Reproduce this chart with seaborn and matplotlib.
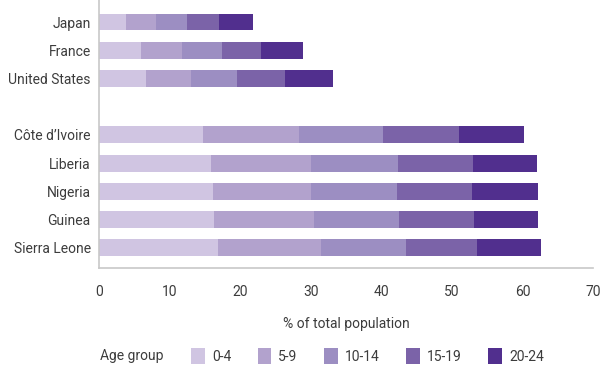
import pandas as pd
import numpy as np
import matplotlib
matplotlib.use("Agg")
import matplotlib.pyplot as plt
import matplotlib.patches as mpatches
import seaborn as sns

# share of total population by age group
countries = ["Japan", "France", "United States", "",
             "Côte d’Ivoire", "Liberia", "Nigeria", "Guinea", "Sierra Leone"]
age_groups = ["0-4", "5-9", "10-14", "15-19", "20-24"]
colors = ["#d0c5e2", "#b2a2cd", "#9c8ec2", "#7b63a8", "#512f8e"]

japan = [3.8, 4.3, 4.3, 4.6, 4.8]
france = [5.9, 5.8, 5.7, 5.6, 5.9]
united_states = [6.7, 6.4, 6.4, 6.8, 6.8]
cote_divoire = [14.8, 13.5, 12.0, 10.7, 9.2]
liberia = [15.9, 14.1, 12.3, 10.7, 9.1]
nigeria = [16.2, 13.9, 12.1, 10.6, 9.4]
guinea = [16.3, 14.1, 12.1, 10.6, 9.1]
sierra_leone = [16.8, 14.6, 12.1, 10.1, 9.0]

data = {
    "Japan": japan,
    "France": france,
    "United States": united_states,
    "Côte d’Ivoire": cote_divoire,
    "Liberia": liberia,
    "Nigeria": nigeria,
    "Guinea": guinea,
    "Sierra Leone": sierra_leone,
}

rows = []
for country, vals in data.items():
    cum = np.cumsum(vals)
    for grp, v in zip(age_groups, cum):
        rows.append({"country": country, "group": grp, "cum": v})
df = pd.DataFrame(rows)

sns.set_style("white")
plt.rcParams["font.family"] = ["Roboto", "DejaVu Sans"]
text_color = "#3c3c3c"
axis_color = "#c8c8c8"
fs = 10

fig = plt.figure(figsize=(6.01, 3.69), dpi=100)
ax = fig.add_axes([99 / 601, 1 - 268 / 369, (593 - 99) / 601, 268 / 369])

# stacked bars: draw cumulative totals from widest to narrowest
for grp, col in reversed(list(zip(age_groups, colors))):
    sub = df[df["group"] == grp]
    sns.barplot(data=sub, x="cum", y="country", order=countries, color=col,
                width=0.6, orient="h", ax=ax, saturation=1, edgecolor="none")

ax.set_xlim(0, 70)
ax.set_ylim(8.72, -0.78)
ax.set_xticks(range(0, 71, 10))
ax.set_xlabel("% of total population", fontsize=fs, color=text_color, labelpad=13)
ax.set_ylabel("")
ax.tick_params(axis="x", direction="out", length=5, width=1, color=axis_color,
               labelsize=fs, labelcolor=text_color, pad=7)
ax.tick_params(axis="y", length=0, labelsize=fs, labelcolor=text_color, pad=6)
for side in ["top", "right"]:
    ax.spines[side].set_visible(False)
for side in ["left", "bottom"]:
    ax.spines[side].set_color(axis_color)
    ax.spines[side].set_linewidth(1.2)

fig.text(100 / 601, 1 - 356 / 369, "Age group", fontsize=fs, color=text_color,
         ha="left", va="center")
handles = [mpatches.Patch(facecolor=c, edgecolor="none", label=g)
           for g, c in zip(age_groups, colors)]
fig.legend(handles=handles, loc="center left", bbox_to_anchor=(184 / 601, 1 - 356 / 369),
           ncol=5, frameon=False, fontsize=fs, handlelength=1.0, handleheight=1.3,
           handletextpad=0.5, columnspacing=1.9, borderpad=0, labelcolor=text_color)

fig.savefig("out.png", dpi=100)
